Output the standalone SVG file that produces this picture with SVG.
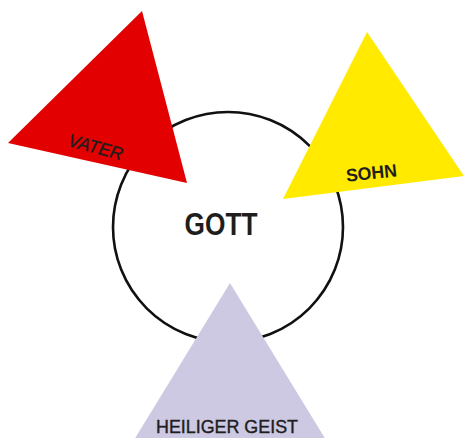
<svg xmlns="http://www.w3.org/2000/svg" width="465" height="438" viewBox="0 0 465 438">
<style>
.lbl{font-family:"Liberation Sans",Arial,sans-serif;fill:#1e1e1e;text-anchor:middle}
</style>
<rect width="465" height="438" fill="#fff"/>
<g id="gott">
<circle cx="228" cy="227" r="115" fill="none" stroke="#111" stroke-width="2.6"/>
<text class="lbl" x="221" y="235" font-size="31" font-weight="bold" textLength="73" lengthAdjust="spacingAndGlyphs">GOTT</text>
</g>
<g id="vater">
<polygon points="142,11 8,143 187,183" fill="#e20000"/>
<text class="lbl" x="0" y="0" font-size="18" font-style="italic" stroke="#1e1e1e" stroke-width="0.4" textLength="56" lengthAdjust="spacingAndGlyphs" transform="translate(94,153) rotate(15)">VATER</text>
</g>
<g id="sohn">
<polygon points="367,32 283,199 464,176" fill="#ffea00"/>
<text class="lbl" x="0" y="0" font-size="18" font-weight="bold" textLength="51" lengthAdjust="spacingAndGlyphs" transform="translate(372,179) rotate(-6)">SOHN</text>
</g>
<g id="heiliger-geist">
<polygon points="230,283 134,440 326,440" fill="#cdc9e3"/>
<text class="lbl" x="227" y="433" font-size="18" stroke="#1e1e1e" stroke-width="0.4" textLength="142" lengthAdjust="spacingAndGlyphs">HEILIGER GEIST</text>
</g>
</svg>
